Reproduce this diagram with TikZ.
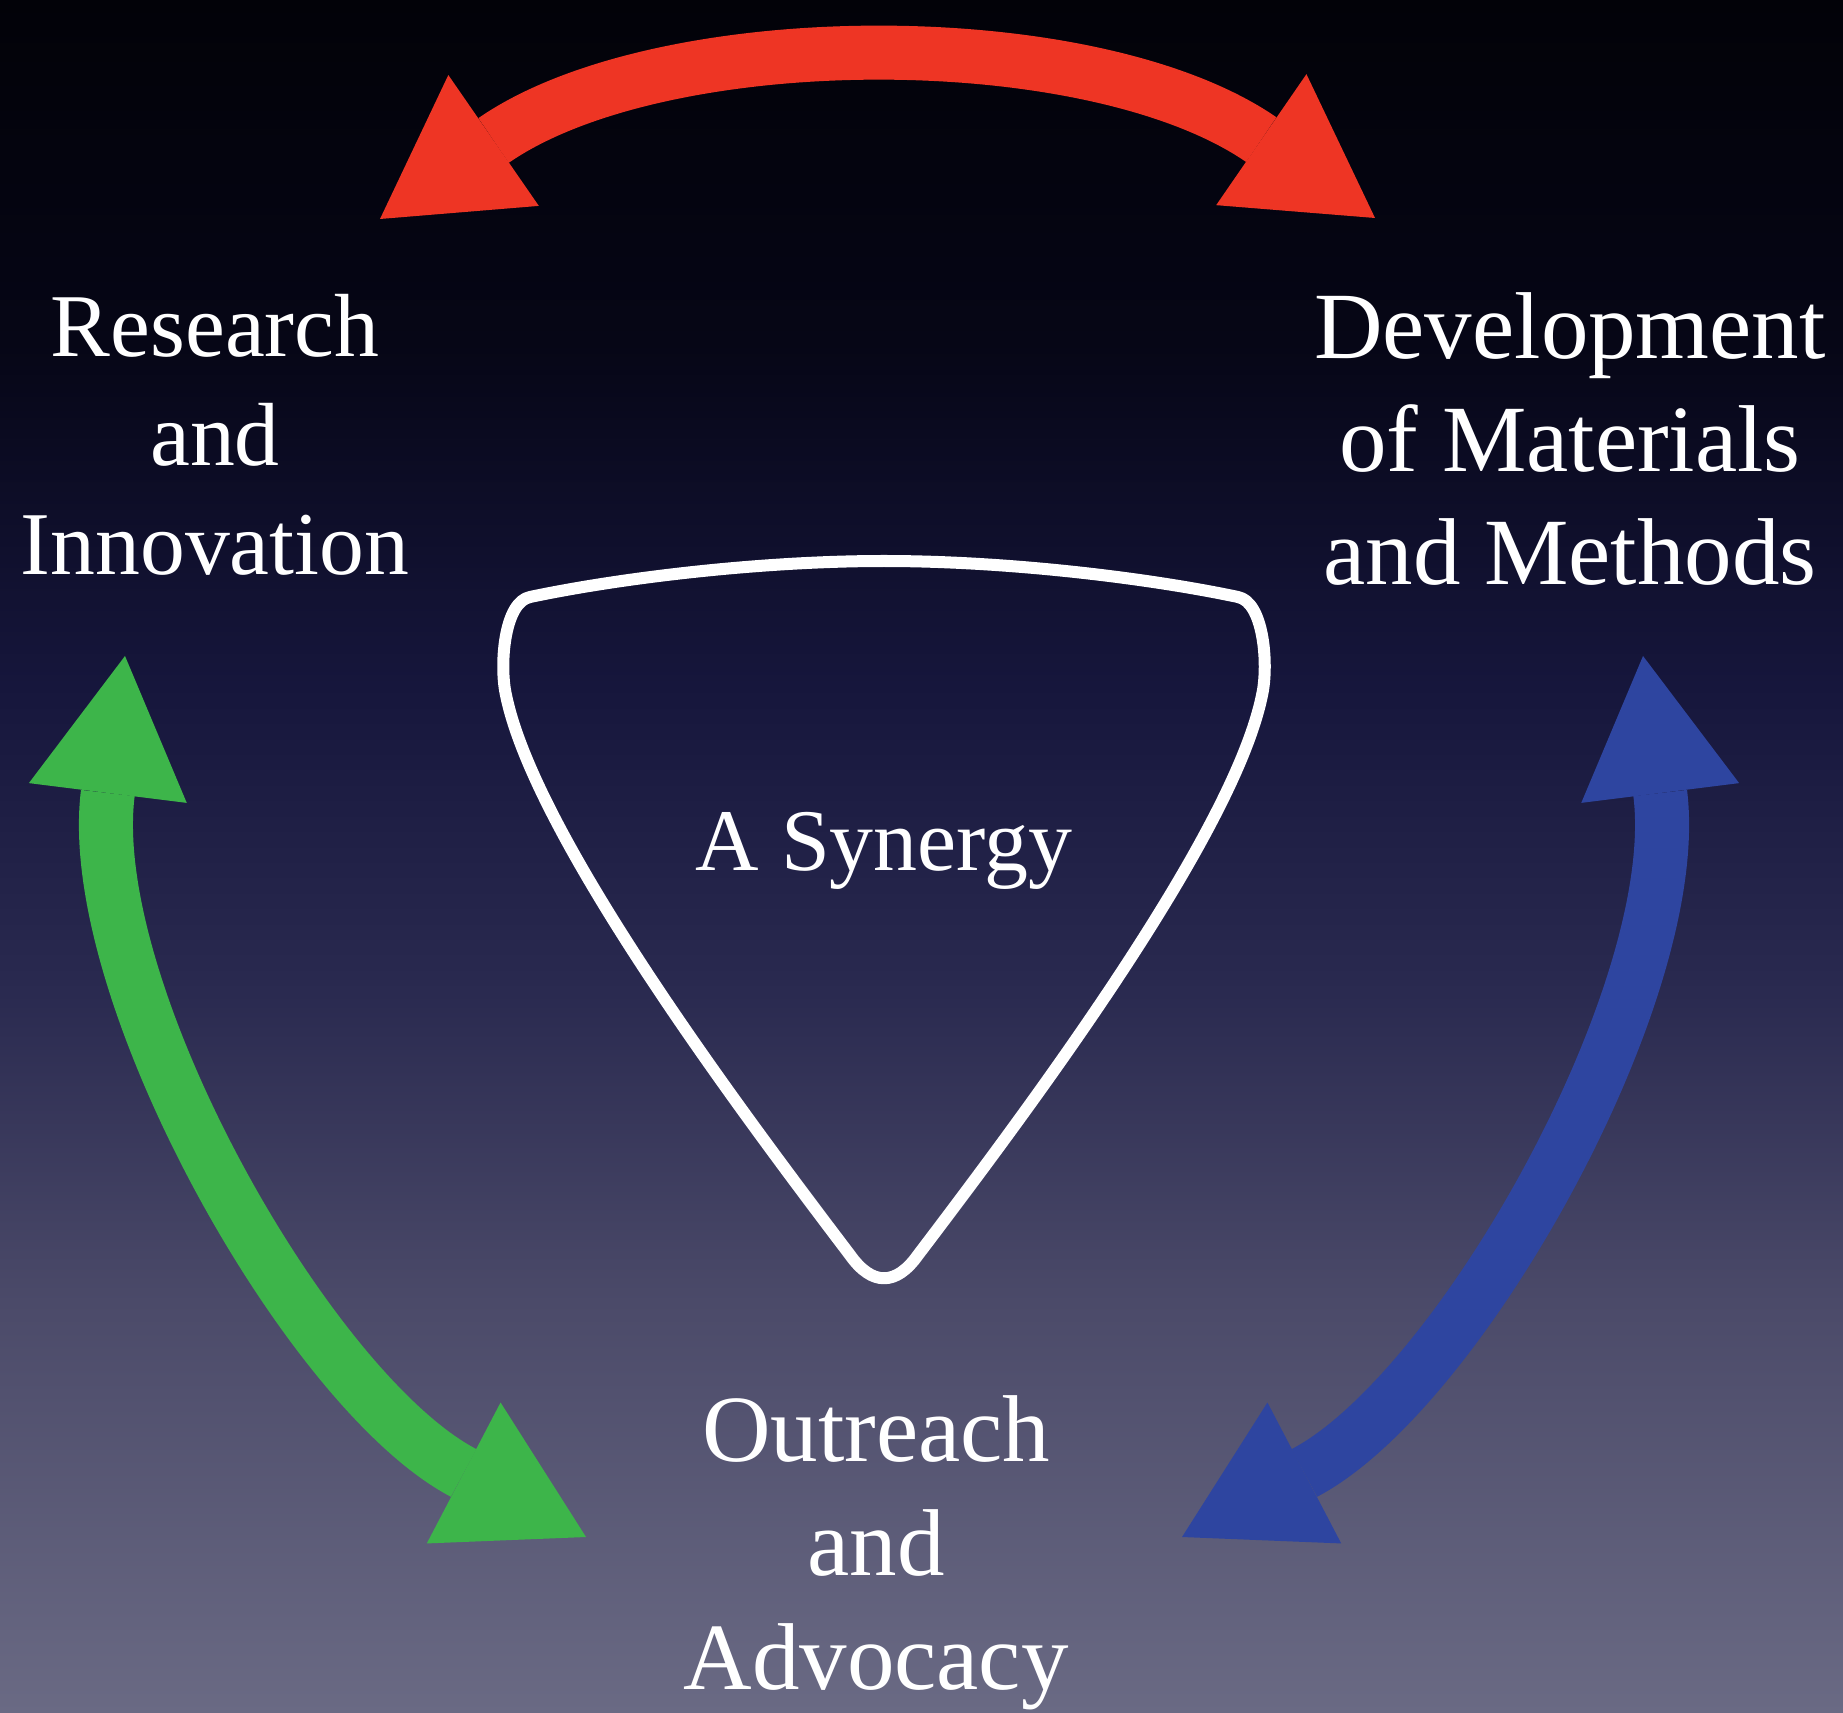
\documentclass[tikz,border=0pt]{standalone}
\usepackage{fontspec}
\setmainfont{Liberation Serif}
\usetikzlibrary{arrows.meta}
\definecolor{arrow-red}{RGB}{238,53,36}
\definecolor{arrow-green}{RGB}{61,181,74}
\definecolor{arrow-blue}{RGB}{46,69,160}
\definecolor{bg-1}{RGB}{2,2,8}
\definecolor{bg-2}{RGB}{6,6,22}
\definecolor{bg-3}{RGB}{22,22,60}
\definecolor{bg-4}{RGB}{42,42,80}
\definecolor{bg-5}{RGB}{75,74,105}
\definecolor{bg-6}{RGB}{106,106,132}
\pgfdeclareverticalshading{slide}{100bp}{color(0bp)=(bg-6); color(25bp)=(bg-6); color(37bp)=(bg-5);
  color(46bp)=(bg-4); color(55bp)=(bg-3); color(65bp)=(bg-2); color(75bp)=(bg-1); color(100bp)=(bg-1)}
\tikzset{
  bighead/.tip={Triangle[length=1.38cm, width=1.59cm, line width=0pt]},
  twoway/.style={line width=0.54cm, bighead-bighead},
  topic/.style={text=white, align=center, anchor=base, inner sep=0pt},
}

\begin{document}
\begin{tikzpicture}[x=0.01cm, y=-0.01cm]
	\useasboundingbox (0,0) rectangle (1843,1713);
	\shade[shading=slide] (0,0) rectangle (1843,1713);
	% the four labels (anchored on the last line)
	\node[topic, font=\fontsize{25.5}{31}\selectfont] (research) at (215,575) {Research\\and\\Innovation};
	\node[topic, font=\fontsize{27}{32.2}\selectfont] (develop) at (1570,585) {Development\\of Materials\\and Methods};
	\node[topic, font=\fontsize{27}{32.4}\selectfont] (outreach) at (876,1689) {Outreach\\and\\Advocacy};
	\node[topic, font=\fontsize{25}{30}\selectfont] (synergy) at (884,870) {A Synergy};
	% arrow ends
	\coordinate (r1) at (380,219);
	\coordinate (r2) at (1375,218);
	\coordinate (g1) at (125,656);
	\coordinate (g2) at (586,1537);
	\coordinate (b1) at (1643,656);
	\coordinate (b2) at (1182,1537);
	\draw[twoway, arrow-red] (r1) .. controls (662,24) and (1092,23) .. (r2);
	\draw[twoway, arrow-green] (g1) .. controls (83,991) and (309,1392) .. (g2);
	\draw[twoway, arrow-blue] (b1) .. controls (1685,991) and (1459,1392) .. (b2);
	% the pick round the middle
	\draw[white, line width=0.12cm, line join=round]
		(884,561) .. controls (760,561) and (620,578) .. (530,597)
		.. controls (505,602) and (500,660) .. (505,690)
		.. controls (530,830) and (740,1110) .. (850,1255)
		.. controls (872,1286) and (896,1286) .. (918,1255)
		.. controls (1028,1110) and (1238,830) .. (1263,690)
		.. controls (1268,660) and (1263,602) .. (1238,597)
		.. controls (1148,578) and (1008,561) .. (884,561) -- cycle;
\end{tikzpicture}
\end{document}
